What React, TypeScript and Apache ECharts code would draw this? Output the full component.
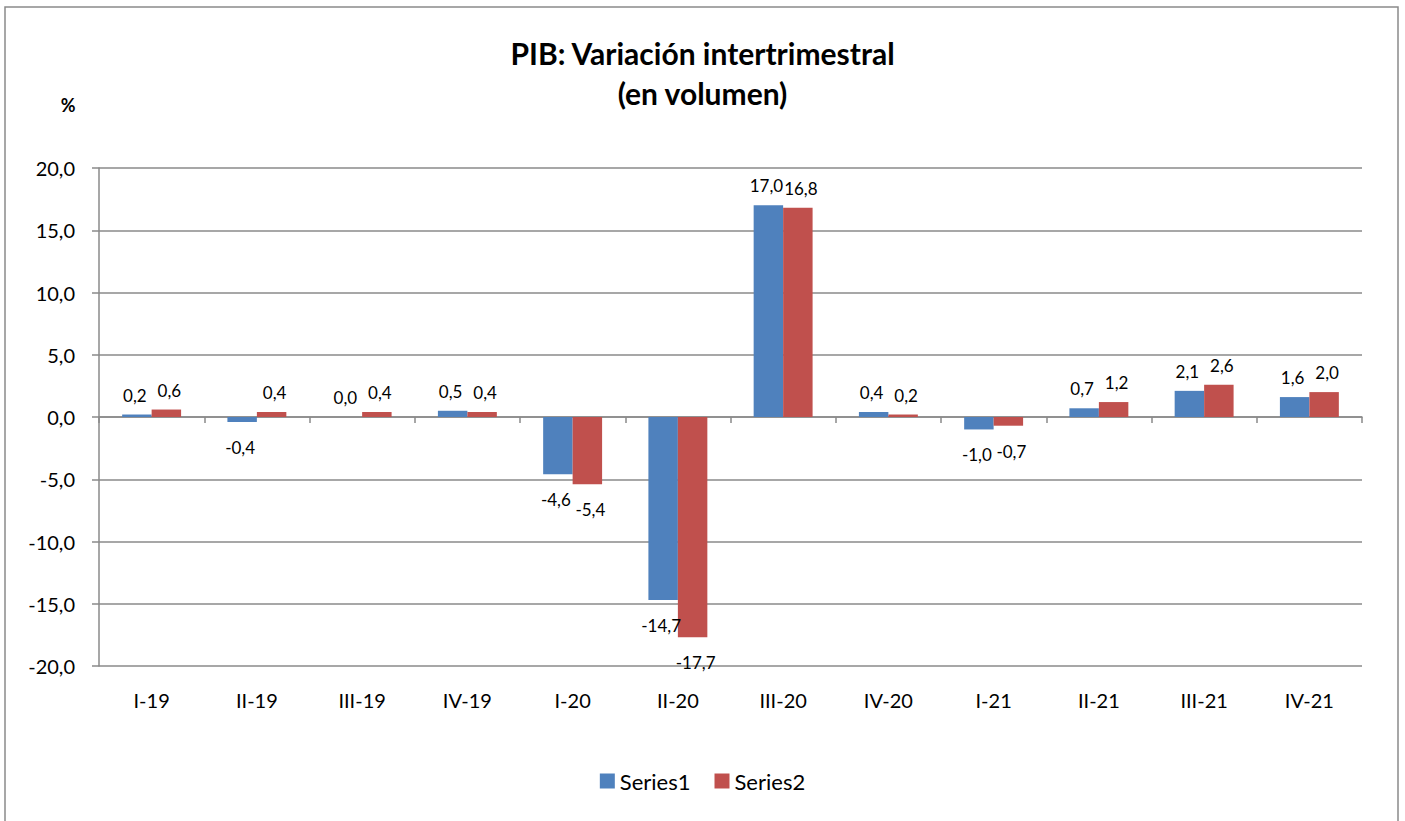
import React, { useEffect, useRef } from "react";
import * as echarts from "echarts";

const categories = ["I-19", "II-19", "III-19", "IV-19", "I-20", "II-20", "III-20", "IV-20", "I-21", "II-21", "III-21", "IV-21"];
const series1 = [0.2, -0.4, 0.0, 0.5, -4.6, -14.7, 17.0, 0.4, -1.0, 0.7, 2.1, 1.6];
const series2 = [0.6, 0.4, 0.4, 0.4, -5.4, -17.7, 16.8, 0.2, -0.7, 1.2, 2.6, 2.0];
const yTicks = { min: -20, max: 20, interval: 5 };

const FONT = "Lato, 'Open Sans', sans-serif";
const fmt = (v: number) => v.toFixed(1).replace(".", ",");

const toItems = (arr: number[], dx: number) =>
  arr.map((v) => ({
    value: v,
    label: v < 0
      ? { position: "bottom", distance: 17, offset: [dx, 0] }
      : { position: "top", distance: 11, offset: [dx, 0] },
  }));

export default function App() {
  const ref = useRef<HTMLDivElement>(null);
  useEffect(() => {
    if (!ref.current) return;
    const chart = echarts.init(ref.current, undefined, { renderer: "svg" });
    const labelStyle = {
      show: true,
      color: "#000",
      fontSize: 17,
      fontFamily: FONT,
      formatter: (p: any) => fmt(p.value),
    };
    chart.setOption({
      animation: false,
      backgroundColor: "#fff",
      textStyle: { fontFamily: FONT },
      title: {
        text: "PIB: Variación intertrimestral\n(en volumen)",
        left: "center",
        top: 28,
        textStyle: { fontSize: 30, fontWeight: "bold", color: "#000", lineHeight: 40, fontFamily: FONT },
      },
      graphic: [
        {
          type: "rect",
          shape: { x: 5, y: 7, width: 1393, height: 830 },
          style: { fill: "none", stroke: "#8a8a8a", lineWidth: 1.5 },
          silent: true,
        },
        {
          type: "text",
          x: 68,
          y: 105,
          style: { text: "%", fontSize: 18, fontWeight: "bold", fill: "#000", align: "center", verticalAlign: "middle", fontFamily: FONT },
        },
      ],
      legend: {
        bottom: 24,
        left: "center",
        itemWidth: 15,
        itemHeight: 15,
        itemGap: 24,
        icon: "rect",
        textStyle: { fontSize: 22, color: "#000", fontFamily: FONT },
        data: ["Series1", "Series2"],
      },
      grid: { left: 99, right: 43, top: 168, bottom: 155 },
      xAxis: [
        {
          type: "category",
          data: categories,
          position: "top",
          axisLine: { onZero: true, lineStyle: { color: "#8a8a8a", width: 1.5 } },
          axisTick: { show: true, inside: true, length: 6, lineStyle: { color: "#8a8a8a", width: 1.5 } },
          axisLabel: { show: false },
          splitLine: { show: false },
        },
        {
          type: "category",
          data: categories,
          position: "bottom",
          axisLine: { show: false, onZero: false },
          axisTick: { show: false },
          axisLabel: { show: true, fontSize: 20, color: "#000", margin: 24, fontFamily: FONT },
          splitLine: { show: false },
        },
      ],
      yAxis: {
        type: "value",
        min: yTicks.min,
        max: yTicks.max,
        interval: yTicks.interval,
        axisLine: { show: true, lineStyle: { color: "#8a8a8a", width: 1.5 } },
        axisTick: { show: true, length: 7, lineStyle: { color: "#8a8a8a", width: 1.5 } },
        axisLabel: { fontSize: 20, color: "#000", margin: 24, fontFamily: FONT, formatter: (v: number) => fmt(v) },
        splitLine: { show: true, lineStyle: { color: "#8a8a8a", width: 1.5 } },
      },
      series: [
        {
          name: "Series1",
          type: "bar",
          xAxisIndex: 0,
          data: toItems(series1, -2),
          barGap: "0%",
          barCategoryGap: "44%",
          itemStyle: { color: "#4F81BD" },
          label: labelStyle,
        },
        {
          name: "Series2",
          type: "bar",
          xAxisIndex: 0,
          data: toItems(series2, 3),
          barGap: "0%",
          barCategoryGap: "44%",
          itemStyle: { color: "#C0504D" },
          label: labelStyle,
        },
      ],
    });
    return () => chart.dispose();
  }, []);
  return <div ref={ref} style={{ position: "fixed", left: 0, top: 0, width: 1405, height: 821 }} />;
}
